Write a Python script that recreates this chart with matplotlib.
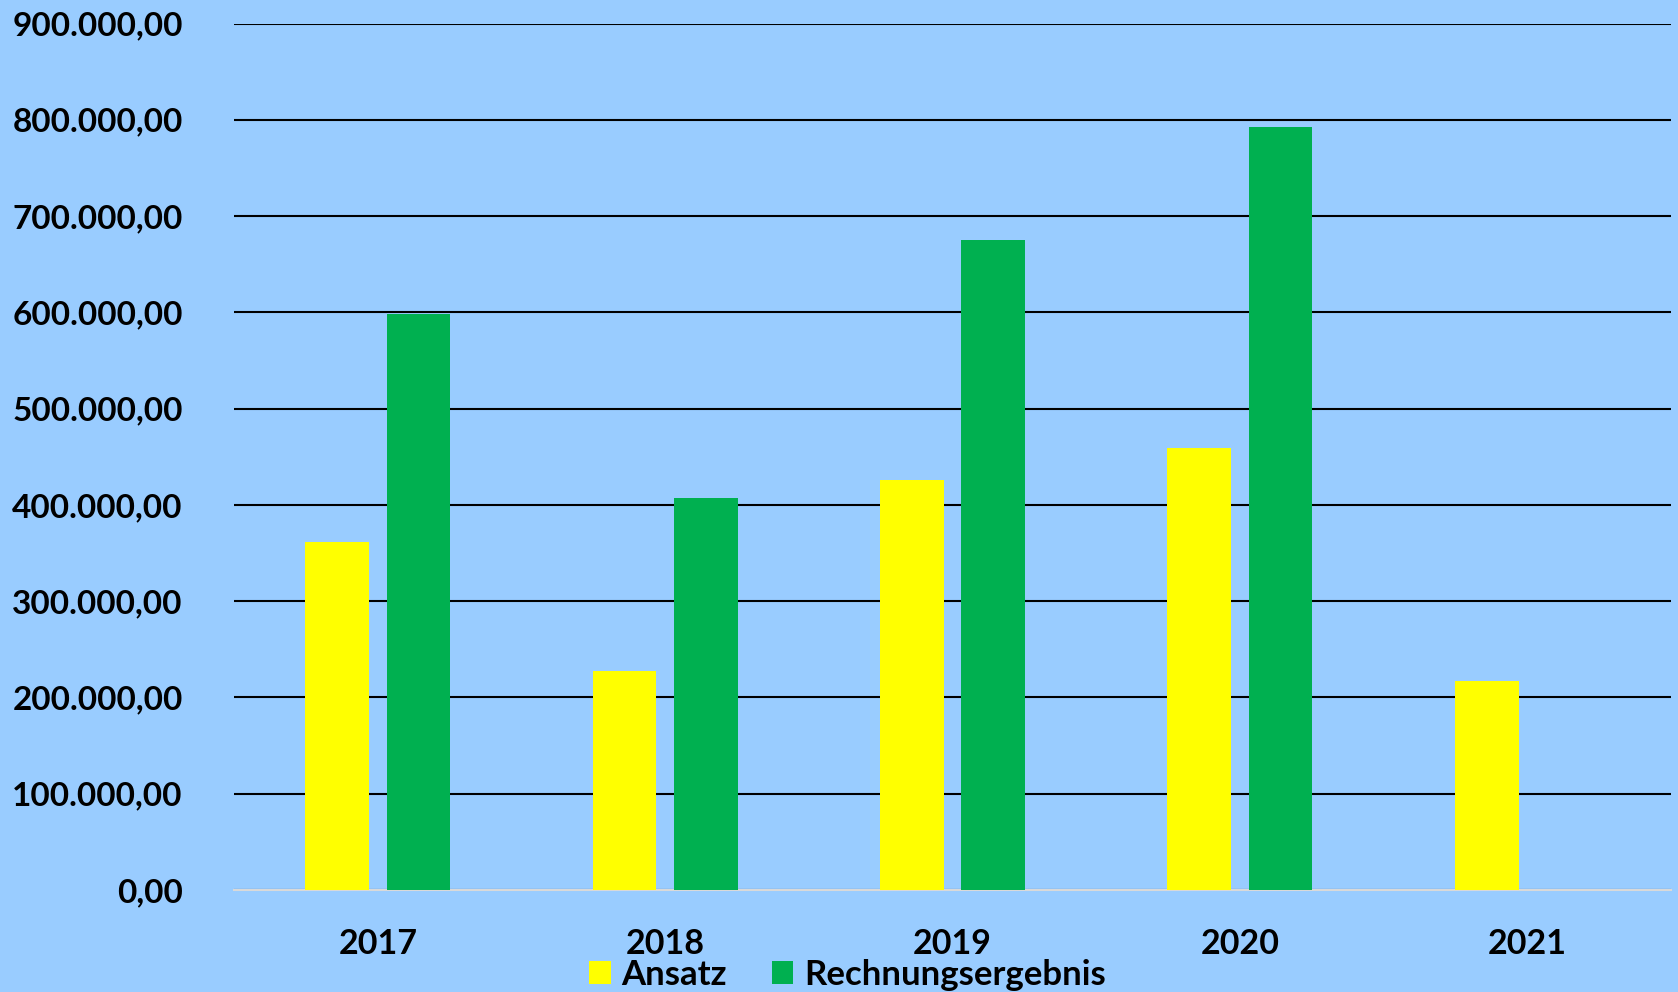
import matplotlib.pyplot as plt
import numpy as np
from matplotlib.ticker import FuncFormatter, MultipleLocator

years = ["2017", "2018", "2019", "2020", "2021"]
ansatz = [361500, 227500, 426000, 459000, 217000]
rechnungsergebnis = [598000, 407000, 675000, 793000, np.nan]

plt.rcParams['font.family'] = ['Lato', 'DejaVu Sans']
plt.rcParams['font.weight'] = 'bold'

bg = '#99CCFF'
fig = plt.figure(figsize=(16.78, 9.92), dpi=100)
fig.set_facecolor(bg)
ax = fig.add_axes([0.1395, 0.1028, 0.8563, 0.8735])
ax.set_facecolor(bg)

x = np.arange(len(years))
barWidth = 0.222
offset = 0.1415
ax.bar(x - offset, ansatz, width=barWidth, color='#FFFF00', label="Ansatz", zorder=3)
ax.bar(x + offset, rechnungsergebnis, width=barWidth, color='#00B050', label="Rechnungsergebnis", zorder=3)

ax.set_xlim(-0.5, 4.5)
ax.set_ylim(0, 900000)
ax.yaxis.set_major_locator(MultipleLocator(100000))


def germanFormat(v, pos):
    s = f"{v:,.2f}"
    return s.replace(',', 'X').replace('.', ',').replace('X', '.')


ax.yaxis.set_major_formatter(FuncFormatter(germanFormat))
ax.set_xticks(x)
ax.set_xticklabels(years)

ax.set_axisbelow(True)
ax.yaxis.grid(True, color='black', linewidth=1.5, zorder=1)
ax.get_ygridlines()[0].set_visible(False)

for side in ('left', 'right', 'top'):
    ax.spines[side].set_visible(False)
ax.spines['bottom'].set_color('#D9D9D9')
ax.spines['bottom'].set_linewidth(1.5)

ax.tick_params(axis='y', length=0, pad=37, labelsize=24)
ax.tick_params(axis='x', length=0, pad=27, labelsize=24.5)
for lbl in ax.get_yticklabels() + ax.get_xticklabels():
    lbl.set_fontweight('bold')

fig.legend(loc='lower center', bbox_to_anchor=(0.505, -0.03), ncol=2, frameon=False,
           handlelength=0.62, handleheight=0.62, handletextpad=0.3,
           columnspacing=1.3, prop={'weight': 'bold', 'size': 25})

fig.savefig('out.png', dpi=100, facecolor=bg)
